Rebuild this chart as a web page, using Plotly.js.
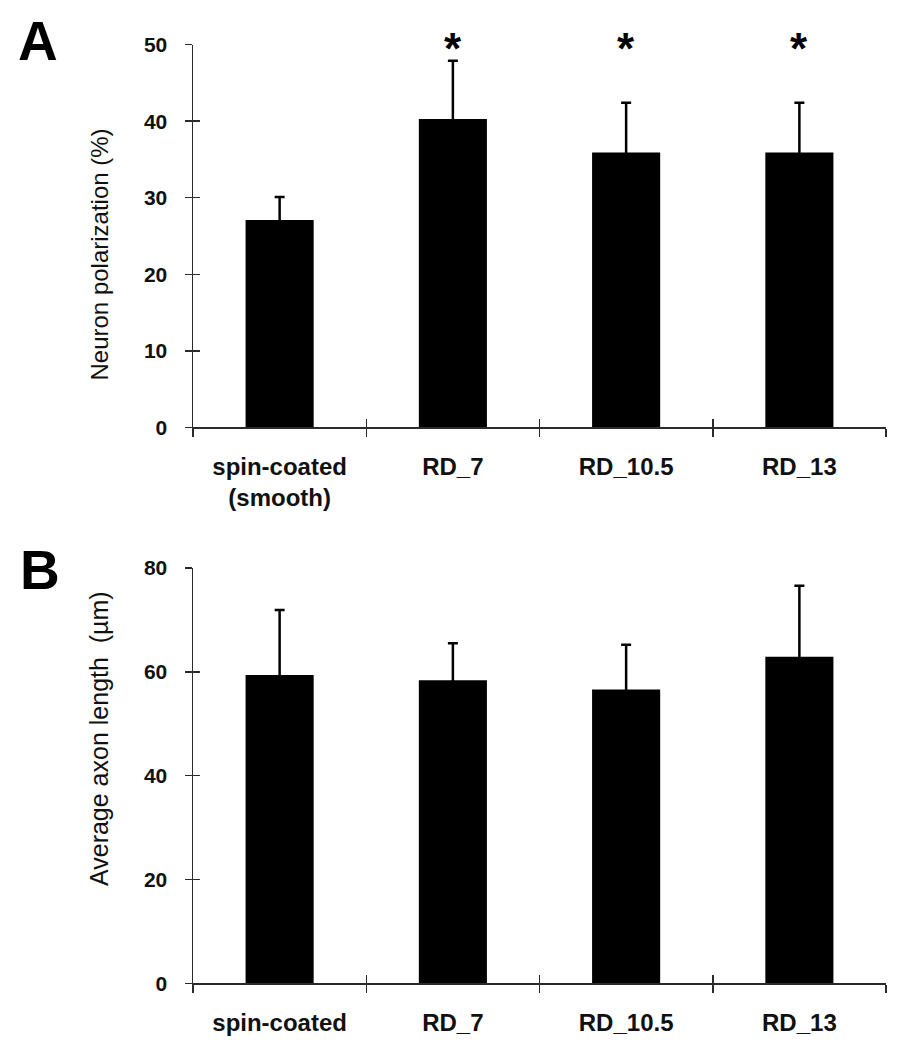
<!DOCTYPE html>
<html>
<head>
<meta charset="utf-8">
<script src="https://cdn.plot.ly/plotly-3.0.1.min.js"></script>
<style>html,body{margin:0;padding:0;background:#fff;}#chart{width:899px;height:1050px;}</style>
</head>
<body>
<div id="chart"></div>
<script>
// Panel A data
const categoriesA = ['spin-coated<br>(smooth)', 'RD_7', 'RD_10.5', 'RD_13'];
const polarization = [27.1, 40.3, 35.9, 35.9];
const polarizationErr = [3.0, 7.6, 6.5, 6.5];
const significance = ['', '*', '*', '*'];
// Panel B data
const categoriesB = ['spin-coated', 'RD_7', 'RD_10.5', 'RD_13'];
const axonLength = [59.4, 58.4, 56.6, 62.9];
const axonLengthErr = [12.5, 7.1, 8.6, 13.7];
// Axis ticks
const ticksA = [0, 10, 20, 30, 40, 50];
const ticksB = [0, 20, 40, 60, 80];

const W = 899, H = 1050;
const L = 193, R = 13;
const PW = W - L - R;
const px = v => (v - L) / PW;
const py = v => 1 - v / H;
const domA = [py(427.3), py(44.7)];
const domB = [py(983.3), py(568)];
const boundaries = [-0.5, 0.5, 1.5, 2.5, 3.5];

const lineCol = '#2b2b2b';
const FAM = 'Liberation Sans, Arial, sans-serif';
const tickFont = {family: FAM, size: 21, color: '#111', weight: 'bold'};
const catFont = {family: FAM, size: 24, color: '#111', weight: 'bold'};

function barTrace(cats, vals, errs, xa, ya) {
  return {
    type: 'bar', x: cats, y: vals, xaxis: xa, yaxis: ya,
    marker: {color: '#000', line: {width: 0}},
    error_y: {type: 'data', symmetric: true, array: errs, color: '#000', thickness: 2.5, width: 5},
    hoverinfo: 'none', showlegend: false
  };
}
function dummy(xa, ya) {
  return {type: 'scatter', x: [0], y: [0], xaxis: xa, yaxis: ya, mode: 'markers',
          marker: {opacity: 0}, hoverinfo: 'skip', showlegend: false};
}

const data = [
  barTrace(categoriesA, polarization, polarizationErr, 'x', 'y'),
  barTrace(categoriesB, axonLength, axonLengthErr, 'x2', 'y2'),
  dummy('x3', 'y3'),
  dummy('x4', 'y4')
];

function mainX(anchor) {
  return {type: 'category', anchor: anchor, domain: [0, 1], range: [-0.5, 3.5],
          tickson: 'boundaries', ticks: 'outside', ticklen: 8, tickwidth: 1.5, tickcolor: lineCol,
          showline: true, linecolor: lineCol, linewidth: 1.5, showgrid: false, zeroline: false,
          tickfont: catFont, ticklabelstandoff: 17, fixedrange: true};
}
function mainY(anchor, dom, tv, rng) {
  return {anchor: anchor, domain: dom, range: rng, tickvals: tv, ticktext: tv.map(String),
          ticks: 'outside', ticklen: 7, tickwidth: 1.5, tickcolor: lineCol,
          showline: true, linecolor: lineCol, linewidth: 1.5, showgrid: false, zeroline: false,
          tickfont: tickFont, ticklabelstandoff: 13, fixedrange: true};
}
function overX(over, anchor) {
  return {overlaying: over, anchor: anchor, range: [-0.5, 3.5], tickvals: boundaries,
          ticks: 'inside', ticklen: 8, tickwidth: 1.5, tickcolor: lineCol,
          showticklabels: false, showline: false, showgrid: false, zeroline: false, fixedrange: true};
}
function overY(over, anchor, tv, rng) {
  return {overlaying: over, anchor: anchor, range: rng, tickvals: tv,
          ticks: 'inside', ticklen: 7, tickwidth: 1.5, tickcolor: lineCol,
          showticklabels: false, showline: false, showgrid: false, zeroline: false, fixedrange: true};
}

const annotations = [];
significance.forEach((s, i) => {
  if (s) annotations.push({xref: 'x', yref: 'y', x: categoriesA[i], y: 50, text: s, showarrow: false,
    yanchor: 'middle', yshift: -4, font: {family: FAM, size: 44, weight: 'bold', color: '#000'}});
});
annotations.push(
  {xref: 'paper', yref: 'paper', x: px(38), y: py(41), xanchor: 'center', yanchor: 'middle', showarrow: false,
   text: 'A', font: {family: FAM, size: 55, weight: 'bold', color: '#000'}},
  {xref: 'paper', yref: 'paper', x: px(40), y: py(570), xanchor: 'center', yanchor: 'middle', showarrow: false,
   text: 'B', font: {family: FAM, size: 55, weight: 'bold', color: '#000'}},
  {xref: 'paper', yref: 'paper', x: px(99), y: py(254.5), xanchor: 'center', yanchor: 'middle', showarrow: false,
   textangle: -90, text: 'Neuron polarization (%)', font: {family: FAM, size: 24, color: '#111'}},
  {xref: 'paper', yref: 'paper', x: px(99), y: py(739), xanchor: 'center', yanchor: 'middle', showarrow: false,
   textangle: -90, text: 'Average axon length  (µm)', font: {family: FAM, size: 25, color: '#111'}}
);

const layout = {
  width: W, height: H,
  margin: {l: L, r: R, t: 0, b: 0},
  paper_bgcolor: '#fff', plot_bgcolor: '#fff',
  bargap: 0.607,
  showlegend: false,
  xaxis: mainX('y'),
  yaxis: mainY('x', domA, ticksA, [0, 50]),
  xaxis2: mainX('y2'),
  yaxis2: mainY('x2', domB, ticksB, [0, 80]),
  xaxis3: overX('x', 'y3'),
  yaxis3: overY('y', 'x3', ticksA, [0, 50]),
  xaxis4: overX('x2', 'y4'),
  yaxis4: overY('y2', 'x4', ticksB, [0, 80]),
  annotations: annotations
};

Plotly.newPlot('chart', data, layout, {displayModeBar: false, staticPlot: true});
</script>
</body>
</html>
